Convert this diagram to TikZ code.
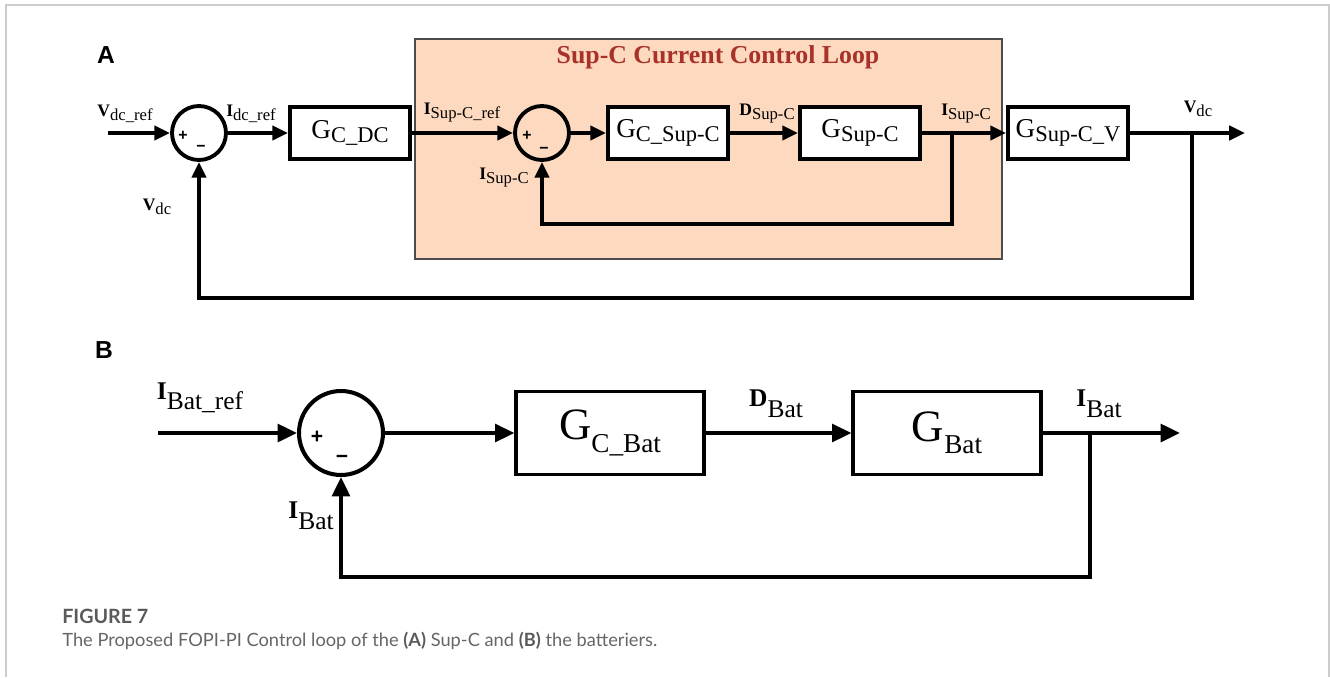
\documentclass[tikz,border=0pt]{standalone}
\usepackage{fontspec}
\setmainfont{Liberation Serif}
\newfontfamily\panelfont{Liberation Sans}
\newfontfamily\capfont{Lato}
\usetikzlibrary{arrows.meta}

\definecolor{loopfill}{HTML}{FDD9BF}
\definecolor{loopred}{HTML}{A8322A}
\definecolor{framegray}{HTML}{CCCCCC}
\definecolor{capgray}{HTML}{5A5A5A}
\definecolor{captext}{HTML}{666666}

% signal name: bold letter + subscript, block name: plain letter + subscript
\newcommand{\subsz}{\small}
\newcommand{\subdrop}{-0.4ex}
\newcommand{\sgn}[2]{\textbf{#1}\raisebox{\subdrop}{\subsz #2}}
\newcommand{\blkn}[2]{#1\raisebox{\subdrop}{\subsz #2}}

\begin{document}
\begin{tikzpicture}[x=0.02cm, y=-0.02cm,
	sumA/.style={circle, draw, line width=2.2pt, minimum size=1.08cm, inner sep=0pt},
	sumB/.style={circle, draw, line width=2.3pt, minimum size=1.68cm, inner sep=0pt},
	blkA/.style={draw, line width=2.2pt, fill=white, minimum width=2.4cm, minimum height=1.04cm, inner sep=0pt,
		font=\fontsize{15.5}{16}\selectfont\def\subsz{\fontsize{12.8}{13}\selectfont}\def\subdrop{-0.3ex}},
	blkB/.style={draw, line width=1.8pt, minimum width=3.76cm, minimum height=1.66cm, inner sep=0pt,
		font=\fontsize{25.5}{26}\selectfont\def\subsz{\fontsize{15.5}{16}\selectfont}\def\subdrop{-0.6ex}},
	lblA/.style={inner sep=0pt, font=\fontsize{10}{12}\selectfont\def\subsz{\fontsize{9.5}{11}\selectfont}\def\subdrop{-0.5ex}},
	lblB/.style={inner sep=0pt, font=\fontsize{14.5}{16}\selectfont\def\subsz{\fontsize{14.5}{16}\selectfont}\def\subdrop{-0.9ex}},
	lineA/.style={line width=2.4pt},
	sigA/.style={lineA, -{Triangle[length=9pt,width=8pt]}},
	lineB/.style={line width=2.3pt},
	sigB/.style={lineB, -{Triangle[length=11pt,width=10pt]}},
	pmA/.style={inner sep=0pt, font=\panelfont\bfseries\fontsize{9}{9}\selectfont},
	pmB/.style={inner sep=0pt, font=\panelfont\bfseries\fontsize{12}{12}\selectfont},
	panel/.style={inner sep=0pt, font=\panelfont\bfseries\fontsize{14}{14}\selectfont}]

	\useasboundingbox (0,0) rectangle (1330,677);

	% Frame
	\draw[framegray, line width=1.2pt] (6,677) -- (6,5) -- (1329,5) -- (1329,677);

	% Panel A
	\node[panel] (tagA) at (106,55) {A};
	\draw[fill=loopfill, draw=black!70, line width=0.6pt] (415,39) rectangle (1002,259);
	\node[inner sep=0pt, text=loopred, font=\bfseries\fontsize{14.7}{16}\selectfont] (ttl) at (718,57) {Sup-C Current Control Loop};

	\node[sumA] (sum1) at (199,133) {};
	\node[pmA] at (183,136) {+};
	\node[pmA] at (201,148) {\textminus};
	\node[blkA] (gcdc) at (350,133) {\blkn{G}{C\_DC}};
	\node[sumA] (sum2) at (542,133) {};
	\node[pmA] at (527,136) {+};
	\node[pmA] at (544,150) {\textminus};
	\node[blkA] (gcsc) at (668,133) {\blkn{G}{C\_Sup-C}};
	\node[blkA] (gsc) at (860,133) {\blkn{G}{Sup-C}};
	\node[blkA] (gscv) at (1068,133) {\blkn{G}{Sup-C\_V}};

	\coordinate (inA) at (108,133);
	\coordinate (outA) at (1245,133);
	\coordinate (brA) at (1192,133);
	\coordinate (fbA) at (1192,298);
	\coordinate (brSC) at (952,133);
	\coordinate (fbSC) at (952,224);

	\draw[sigA] (inA) -- (sum1.west);
	\draw[sigA] (sum1.east) -- (gcdc.west);
	\draw[sigA] (gcdc.east) -- (sum2.west);
	\draw[sigA] (sum2.east) -- (gcsc.west);
	\draw[sigA] (gcsc.east) -- (gsc.west);
	\draw[sigA] (gsc.east) -- (gscv.west);
	\draw[sigA] (gscv.east) -- (outA);
	\draw[sigA] (brSC) -- (fbSC) -| (sum2.south);   % inner loop
	\draw[sigA] (brA) -- (fbA) -| (sum1.south);     % outer loop

	\node[lblA] (vref) at (125,114) {\sgn{V}{dc\_ref}};
	\node[lblA] (iref) at (251,114) {\sgn{I}{dc\_ref}};
	\node[lblA] (vfb) at (157,207) {\sgn{V}{dc}};
	\node[lblA] (iscref) at (462,113) {\sgn{I}{Sup-C\_ref}};
	\node[lblA] (iscfb) at (504,178) {\sgn{I}{Sup-C}};
	\node[lblA] (dsc) at (767,114) {\sgn{D}{Sup-C}};
	\node[lblA] (isc) at (966,114) {\sgn{I}{Sup-C}};
	\node[lblA] (vdc) at (1198,109) {\sgn{V}{dc}};

	% Panel B
	\node[panel] (tagB) at (104,350) {B};
	\node[sumB] (sum3) at (341,433) {};
	\node[pmB] at (317,437) {+};
	\node[pmB] at (342,459) {\textminus};
	\node[blkB] (gcbat) at (610,433) {\blkn{G}{C\_Bat}};
	\node[blkB] (gbat) at (947,433) {\blkn{G}{Bat}};

	\coordinate (inB) at (158,433);
	\coordinate (outB) at (1180,433);
	\coordinate (brB) at (1090,433);
	\coordinate (fbB) at (1090,577);

	\draw[sigB] (inB) -- (sum3.west);
	\draw[sigB] (sum3.east) -- (gcbat.west);
	\draw[sigB] (gcbat.east) -- (gbat.west);
	\draw[sigB] (gbat.east) -- (outB);
	\draw[sigB] (brB) -- (fbB) -| (sum3.south);

	\node[lblB] (ibref) at (200,398) {\sgn{I}{Bat\_ref}};
	\node[lblB] (dbat) at (776,404) {\sgn{D}{Bat}};
	\node[lblB] (ibat) at (1099,404) {\sgn{I}{Bat}};
	\node[lblB] (ibfb) at (311,516) {\sgn{I}{Bat}};

	% Caption
	\node[anchor=base west, inner sep=0pt, text=capgray, font=\capfont\bfseries\fontsize{11.2}{13}\selectfont] (fig) at (62,623) {FIGURE 7};
	\node[anchor=base west, inner sep=0pt, text=captext, font=\capfont\fontsize{10.4}{12}\selectfont] (cap) at (62,646)
		{The Proposed FOPI-PI Control loop of the {\bfseries\color{capgray}(A)} Sup-C and {\bfseries\color{capgray}(B)} the batteriers.};

\end{tikzpicture}
\end{document}
